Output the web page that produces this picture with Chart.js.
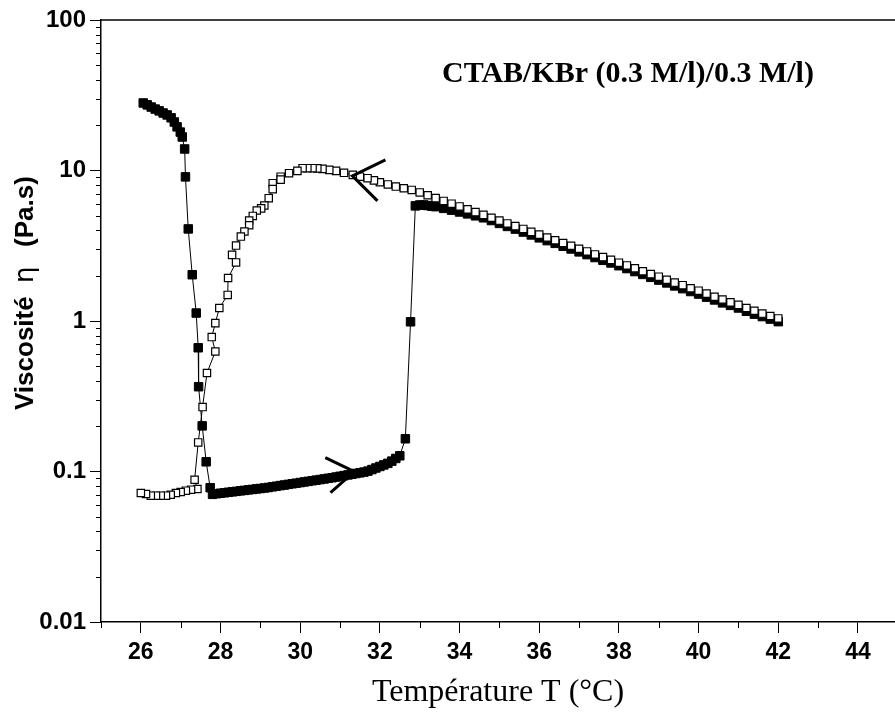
<!DOCTYPE html>
<html>
<head>
<meta charset="utf-8">
<script src="https://cdn.jsdelivr.net/npm/chart.js@4/dist/chart.umd.min.js"></script>
<style>
  html, body { margin: 0; padding: 0; background: #fff; }
  canvas { display: block; }
</style>
</head>
<body>
<canvas id="c" width="895" height="719"></canvas>
<script>
// ---- Heating run (filled squares) ----
const heatT1   = [26.06,26.16,26.26,26.36,26.46,26.56,26.66,26.76,26.84,26.91,26.99,27.04,27.10,27.12,27.19,27.29,27.39,27.44,27.45,27.54,27.64,27.74];
const heatEta1 = [28.1,27.3,26.4,25.6,24.9,24.1,23.4,22.4,21.0,19.5,18.0,16.7,13.9,9.07,4.09,2.03,1.13,0.664,0.366,0.201,0.116,0.078];
const heatT2   = [27.8,27.9,28.0,28.1,28.2,28.3,28.4,28.5,28.6,28.7,28.8,28.9,29.0,29.1,29.2,29.3,29.4,29.5,29.6,29.7,29.8,29.9,30.0,30.1,30.2,30.3,30.4,30.5,30.6,30.7,30.8,30.9,31.0,31.1,31.2,31.3,31.4,31.5,31.6,31.7,31.8,31.9,32.0,32.1,32.2,32.3,32.4,32.5];
const heatEta2 = [0.0705,0.0712,0.0717,0.0722,0.0728,0.0733,0.0738,0.0744,0.0749,0.0755,0.0760,0.0766,0.0771,0.0777,0.0783,0.0791,0.0798,0.0806,0.0813,0.0821,0.0829,0.0836,0.0844,0.0852,0.0860,0.0868,0.0876,0.0884,0.0892,0.0901,0.0909,0.0919,0.0929,0.0939,0.0949,0.0959,0.0970,0.0980,0.0991,0.1006,0.1030,0.1055,0.1080,0.1106,0.1133,0.1172,0.1221,0.1272];
const heatT3   = [32.64,32.77,32.89,33.0,33.1,33.2,33.3,33.4,33.6,33.8,34.0,34.2,34.4,34.6,34.8,35.0,35.2,35.4,35.6,35.8,36.0,36.2,36.4,36.6,36.8,37.0,37.2,37.4,37.6,37.8,38.0,38.2,38.4,38.6,38.8,39.0,39.2,39.4,39.6,39.8,40.0,40.2,40.4,40.6,40.8,41.0,41.2,41.4,41.6,41.8,42.0];
const heatEta3 = [0.165,0.988,5.82,5.9,5.9,5.85,5.8,5.75,5.6,5.45,5.3,5.15,5.0,4.85,4.65,4.45,4.25,4.08,3.9,3.73,3.57,3.42,3.28,3.14,3.01,2.88,2.76,2.64,2.53,2.43,2.33,2.23,2.13,2.04,1.95,1.87,1.79,1.71,1.64,1.57,1.51,1.44,1.38,1.32,1.27,1.22,1.16,1.11,1.07,1.03,0.99];

// ---- Cooling run (open squares) ----
const coolT1   = [42.0,41.8,41.6,41.4,41.2,41.0,40.8,40.6,40.4,40.2,40.0,39.8,39.6,39.4,39.2,39.0,38.8,38.6,38.4,38.2,38.0,37.8,37.6,37.4,37.2,37.0,36.8,36.6,36.4,36.2,36.0,35.8,35.6,35.4,35.2,35.0,34.8,34.6,34.4,34.2,34.0,33.8,33.6,33.4,33.2,33.0,32.8,32.6,32.4,32.2,32.0];
const coolEta1 = [1.04,1.08,1.12,1.17,1.22,1.28,1.33,1.39,1.45,1.52,1.59,1.65,1.73,1.80,1.88,1.97,2.05,2.14,2.24,2.34,2.44,2.55,2.66,2.77,2.90,3.02,3.16,3.30,3.44,3.59,3.75,3.91,4.09,4.27,4.45,4.65,4.85,5.07,5.29,5.52,5.77,6.02,6.28,6.56,6.85,7.15,7.43,7.62,7.82,8.08,8.35];
const coolT2   = [31.85,31.69,31.5,31.32,31.1,30.9,30.73,30.56,30.43,30.31,30.18,30.06,29.93,29.72,29.51,29.51,29.31,29.31,29.21,29.10,29.02,28.91,28.81,28.72,28.72,28.60,28.51,28.39,28.29,28.39,28.19,28.18,27.97,27.87,27.78,27.87,27.66,27.55,27.44,27.35,27.42];
const coolEta2 = [8.6,8.89,9.1,9.35,9.65,9.94,10.1,10.25,10.33,10.36,10.36,10.36,9.94,9.6,9.1,8.7,8.24,7.52,6.55,5.85,5.6,5.42,4.99,4.65,4.33,3.93,3.64,3.17,2.75,2.45,1.93,1.49,1.22,0.968,0.782,0.627,0.451,0.268,0.156,0.0882,0.0765];
const coolT3   = [27.26,27.13,27.0,26.88,26.75,26.63,26.50,26.38,26.25,26.13,26.0];
const coolEta3 = [0.0757,0.0746,0.0731,0.0720,0.0701,0.0691,0.0691,0.0691,0.0691,0.0709,0.0720];

// ---- Direction arrows (drawn in data coordinates) ----
const arrowCoolT   = [32.14,31.31,31.94];
const arrowCoolEta = [11.76,9.21,6.28];
const arrowHeatT   = [30.63,31.36,30.76];
const arrowHeatEta = [0.1235,0.0997,0.0723];

// ---- Axes ----
const xMin = 25, xMax = 44.93;
const xTickValues  = [25,26,27,28,29,30,31,32,33,34,35,36,37,38,39,40,41,42,43,44];
const xLabelValues = [26,28,30,32,34,36,38,40,42,44];
const yDecades     = [0.01,0.1,1,10,100];
const yDecadeText  = ['0.01','0.1','1','10','100'];
const yMultipliers = [1,2,3,4,5,6,7,8,9];

const annotationText = 'CTAB/KBr (0.3 M/l)/0.3 M/l)';
const xTitle = 'Température T (°C)';

function zip(ts, vs) {
  const n = Math.min(ts.length, vs.length);
  const out = [];
  for (let i = 0; i < n; i++) out.push({x: ts[i], y: vs[i]});
  return out;
}
const heatData = zip(heatT1, heatEta1).concat(zip(heatT2, heatEta2), zip(heatT3, heatEta3));
const coolData = zip(coolT1, coolEta1).concat(zip(coolT2, coolEta2), zip(coolT3, coolEta3));

const yTicks = [];
yDecades.forEach((d, i) => {
  yMultipliers.forEach(m => {
    if (i === yDecades.length - 1 && m > 1) return;
    yTicks.push({value: d * m, major: m === 1, label: m === 1 ? yDecadeText[i] : ''});
  });
});

const decorPlugin = {
  id: 'decor',
  beforeDatasetsDraw(chart) {
    const {ctx, chartArea} = chart;
    ctx.save();
    ctx.strokeStyle = '#000';
    ctx.lineWidth = 1.5;
    ctx.beginPath();
    ctx.moveTo(chartArea.left, chartArea.top);
    ctx.lineTo(chartArea.right, chartArea.top);
    ctx.stroke();
    // minor ticks
    ctx.lineWidth = 1;
    const xs = chart.scales.x, ys = chart.scales.y;
    xs.ticks.forEach(t => {
      if (!xLabelValues.includes(t.value)) {
        const px = Math.round(xs.getPixelForValue(t.value)) + 0.5;
        ctx.beginPath();
        ctx.moveTo(px, chartArea.bottom);
        ctx.lineTo(px, chartArea.bottom + 6);
        ctx.stroke();
      }
    });
    ys.ticks.forEach(t => {
      if (!t.major) {
        const py = Math.round(ys.getPixelForValue(t.value)) + 0.5;
        ctx.beginPath();
        ctx.moveTo(chartArea.left, py);
        ctx.lineTo(chartArea.left - 5, py);
        ctx.stroke();
      }
    });
    ctx.restore();
  },
  afterDraw(chart) {
    const {ctx} = chart;
    ctx.save();
    ctx.fillStyle = '#000';
    // annotation
    ctx.font = 'bold 30px "Liberation Serif"';
    ctx.textAlign = 'left';
    ctx.textBaseline = 'alphabetic';
    ctx.fillText(annotationText, 442, 82);
    // y title, rotated
    ctx.translate(33, 0);
    ctx.rotate(-Math.PI / 2);
    ctx.font = 'bold 26px "Liberation Sans"';
    ctx.fillText('Viscosité', -410, 0);
    ctx.font = '26px "DejaVu Sans"';
    ctx.fillText('η', -283, 0);
    ctx.font = 'bold 26px "Liberation Sans"';
    ctx.fillText('(Pa.s)', -247, 0);
    ctx.restore();
  }
};

new Chart(document.getElementById('c'), {
  type: 'line',
  data: {
    datasets: [
      {
        label: 'arrowCool', data: zip(arrowCoolT, arrowCoolEta),
        borderColor: '#000', borderWidth: 3, pointRadius: 0, fill: false, tension: 0, order: 0
      },
      {
        label: 'arrowHeat', data: zip(arrowHeatT, arrowHeatEta),
        borderColor: '#000', borderWidth: 3, pointRadius: 0, fill: false, tension: 0, order: 0
      },
      {
        label: 'refroidissement', data: coolData,
        borderColor: '#000', borderWidth: 1, fill: false, tension: 0,
        pointStyle: 'rect', pointRadius: 5.2, pointBackgroundColor: '#fff',
        pointBorderColor: '#000', pointBorderWidth: 1.2, order: 1
      },
      {
        label: 'chauffage', data: heatData,
        borderColor: '#000', borderWidth: 1, fill: false, tension: 0,
        pointStyle: 'rect', pointRadius: 6, pointBackgroundColor: '#000',
        pointBorderColor: '#000', pointBorderWidth: 1, order: 2
      }
    ]
  },
  options: {
    responsive: false,
    animation: false,
    devicePixelRatio: 1,
    layout: { autoPadding: false, padding: { top: 20, right: 0, bottom: 0, left: 0 } },
    plugins: { legend: { display: false }, tooltip: { enabled: false } },
    scales: {
      x: {
        type: 'linear', min: xMin, max: xMax,
        afterBuildTicks: s => { s.ticks = xTickValues.map(v => ({value: v})); },
        ticks: {
          autoSkip: false, maxRotation: 0, padding: 6, color: '#000',
          font: { family: 'Liberation Sans', weight: 'bold', size: 23 },
          callback: v => xLabelValues.includes(v) ? String(v) : ''
        },
        grid: {
          drawOnChartArea: false, tickLength: 11, tickWidth: 1,
          tickColor: c => (c.tick && xLabelValues.includes(c.tick.value)) ? '#000' : 'rgba(0,0,0,0)'
        },
        border: { color: '#000', width: 1.5 },
        title: {
          display: true, text: xTitle, color: '#000',
          font: { family: 'Liberation Serif', size: 32, lineHeight: 1.2 },
          padding: { top: 0, bottom: 7 }
        },
        afterFit: s => { s.height = 97; s.paddingRight = 0; s.paddingLeft = 0; }
      },
      y: {
        type: 'logarithmic', min: 0.01, max: 100,
        afterBuildTicks: s => { s.ticks = yTicks.map(t => ({value: t.value, major: t.major})); },
        ticks: {
          autoSkip: false, padding: 4, color: '#000',
          font: { family: 'Liberation Sans', weight: 'bold', size: 24 },
          callback: (v, i) => yTicks[i] ? yTicks[i].label : ''
        },
        grid: {
          drawOnChartArea: false, tickLength: 11, tickWidth: 1,
          tickColor: c => (c.tick && c.tick.major) ? '#000' : 'rgba(0,0,0,0)'
        },
        border: { color: '#000', width: 1.5 },
        afterFit: s => { s.width = 101; }
      }
    }
  },
  plugins: [decorPlugin]
});
</script>
</body>
</html>
